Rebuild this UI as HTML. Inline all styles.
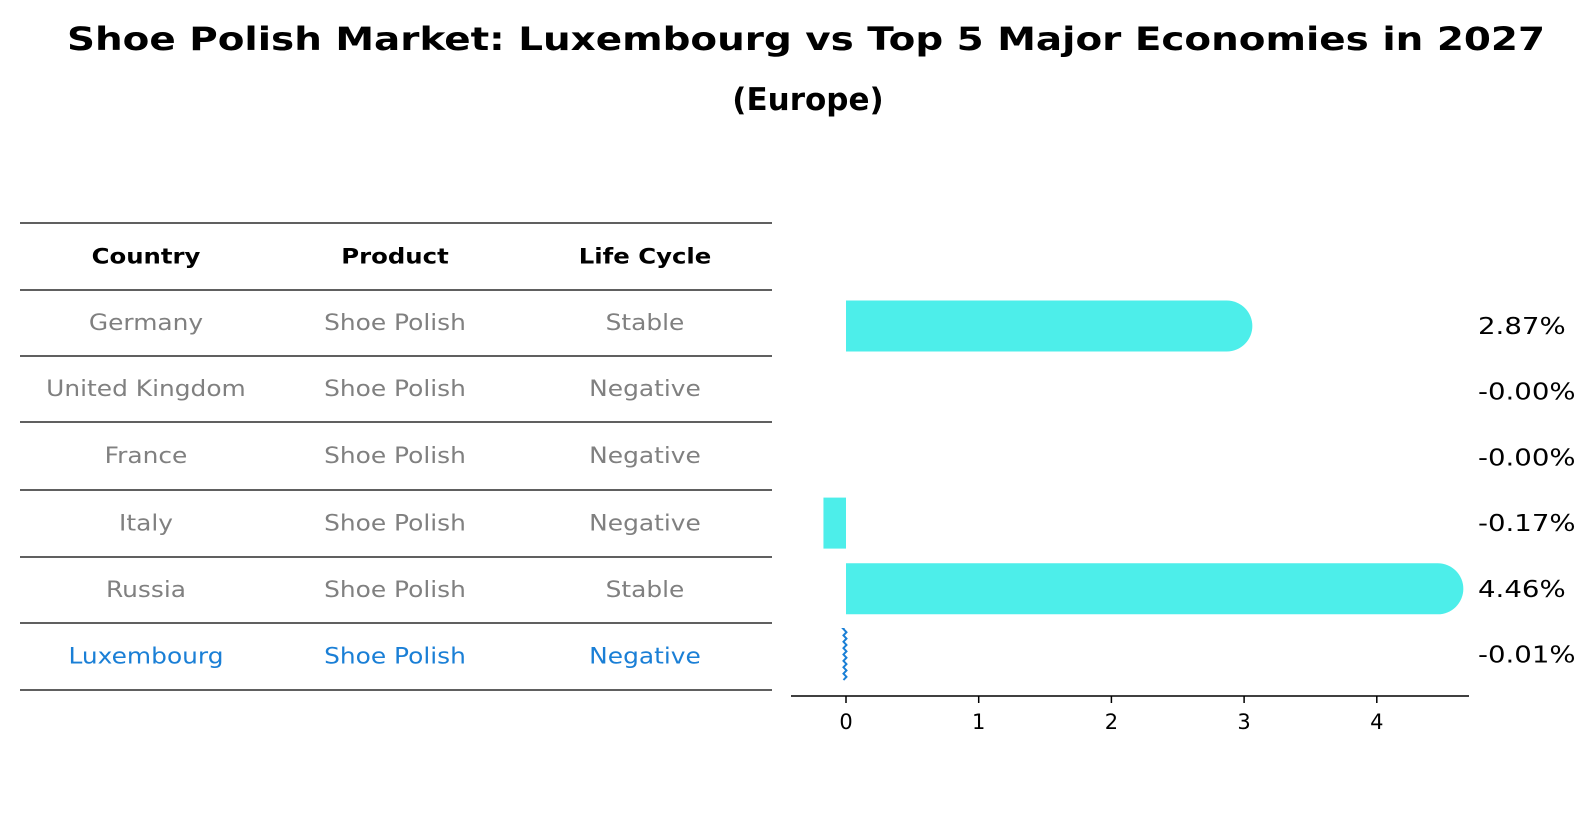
<!DOCTYPE html>
<html><head><meta charset="utf-8">
<style>
html,body{margin:0;padding:0;background:#fff;}
svg{display:block;font-family:"DejaVu Sans","Liberation Sans",sans-serif;}
</style></head>
<body>
<svg id="chart" width="1596" height="823" viewBox="0 0 1596 823">
  <text x="806" y="50" text-anchor="middle" font-size="32" font-weight="bold" textLength="1478" lengthAdjust="spacingAndGlyphs">Shoe Polish Market: Luxembourg vs Top 5 Major Economies in 2027</text>
  <text x="808" y="110" text-anchor="middle" font-size="31" font-weight="bold">(Europe)</text>
  <g id="table"></g>
  <g id="bars"></g>
</svg>
<script>
const countries = ["Germany","United Kingdom","France","Italy","Russia","Luxembourg"];
const products = ["Shoe Polish","Shoe Polish","Shoe Polish","Shoe Polish","Shoe Polish","Shoe Polish"];
const lifeCycles = ["Stable","Negative","Negative","Negative","Stable","Negative"];
const growth = [2.87,-0.001,-0.001,-0.17,4.46,-0.01];
const valueLabels = ["2.87%","-0.00%","-0.00%","-0.17%","4.46%","-0.01%"];
const xTicks = [0,1,2,3,4];
const headers = ["Country","Product","Life Cycle"];

const NS = "http://www.w3.org/2000/svg";
function mk(tag, attrs, parent){const e=document.createElementNS(NS,tag);for(const k in attrs)e.setAttribute(k,attrs[k]);parent.appendChild(e);return e;}
function stretch(t,f){const w=t.getComputedTextLength();if(w>0){t.setAttribute('textLength',(w*f).toFixed(1));t.setAttribute('lengthAdjust','spacingAndGlyphs');}}

// table
const tbl = document.getElementById('table');
const lineYs = [223,290,356,422,490,557,623,690];
const colX = [146,395,645];
lineYs.forEach((y,i)=>{
  const l = mk('line',{x1:20,x2:772,y1:y,y2:y,stroke:'#000','stroke-width':1.2},tbl);
  
  
});
headers.forEach((h,j)=>{
  const t = mk('text',{x:colX[j],y:(lineYs[0]+lineYs[1])/2+7,'text-anchor':'middle','font-size':21,'font-weight':'bold',fill:'#000'},tbl);
  t.textContent=h;
  
  
  stretch(t,1.16);
});
countries.forEach((c,i)=>{
  const cy=(lineYs[i+1]+lineYs[i+2])/2+7;
  const col = c==="Luxembourg"?'#1a7fd6':'#808080';
  [c,products[i],lifeCycles[i]].forEach((v,j)=>{
    const t = mk('text',{x:colX[j],y:cy,'text-anchor':'middle','font-size':22,fill:col},tbl);
    t.textContent=v;
    
    
    stretch(t,1.13);
  });
});

// bar chart
const g = document.getElementById('bars');
const x0px=846, unit=132.7;
const xs = v => x0px + v*unit;
const rowY = i => 326 + i*65.7;
const bh = 51, r = 25.5;
growth.forEach((v,i)=>{
  const cy=rowY(i);
  if(countries[i]==="Luxembourg"){
    let d=`M${xs(v)} ${cy-bh/2}`;
    for(let k=0;k<=16;k++){d+=` L${xs(v)+(k%2?1.8:-1.2)} ${cy-bh/2+k*bh/16}`;}
    const p=mk('path',{d:d,fill:'none',stroke:'#1a7fd6','stroke-width':2},g);
    
    
  } else if(v>0){
    const xe=xs(v);
    const p=mk('path',{d:`M${x0px} ${cy-bh/2} L${xe} ${cy-bh/2} A${r} ${bh/2} 0 0 1 ${xe} ${cy+bh/2} L${x0px} ${cy+bh/2} Z`,fill:'#4deeea'},g);
    
    
  } else if(Math.abs(v)>0.005){
    const p=mk('rect',{x:xs(v),y:cy-bh/2,width:x0px-xs(v),height:bh,fill:'#4deeea'},g);
    
    
  }
  const t=mk('text',{x:1478,y:cy+8,'font-size':23,fill:'#000'},g);
  t.textContent=valueLabels[i];
  
  
  stretch(t,1.2);
});
const ax=mk('line',{x1:791,x2:1469,y1:696,y2:696,stroke:'#000','stroke-width':1.5},g);


xTicks.forEach(v=>{
  const tk=mk('line',{x1:xs(v),x2:xs(v),y1:696,y2:703,stroke:'#000','stroke-width':1.5},g);
  
  
  const tl=mk('text',{x:xs(v),y:729,'text-anchor':'middle','font-size':21,fill:'#000'},g);
  tl.textContent=String(v);
  
  
});
</script>
</body></html>
